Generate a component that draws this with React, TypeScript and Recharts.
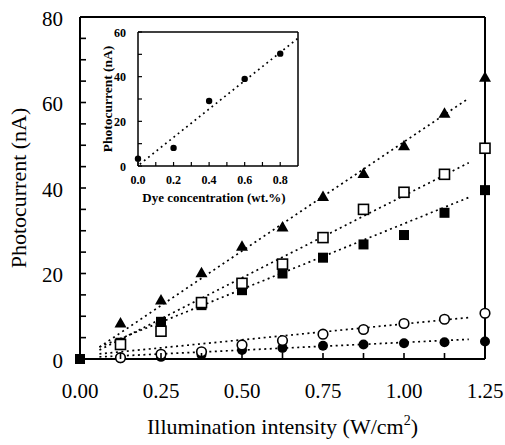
import React from 'react';
import { ComposedChart, Scatter, Line, XAxis, YAxis, ReferenceLine, Label } from 'recharts';

// main plot: photocurrent vs illumination intensity
const intensity = [0.125, 0.25, 0.375, 0.5, 0.625, 0.75, 0.875, 1.0, 1.125, 1.25];
const filledSquareX = [0, ...intensity];

const triangleVals = [8.4, 13.8, 20.2, 26.4, 30.9, 38.0, 43.4, 49.9, 57.5, 65.9];
const openSquareVals = [3.4, 6.5, 13.2, 17.7, 22.2, 28.4, 35.0, 39.0, 43.2, 49.3];
const filledSquareVals = [0, 3.8, 8.7, 12.6, 16.1, 20.0, 23.7, 26.8, 29.0, 34.2, 39.5];
const openCircleVals = [0.3, 1.1, 1.7, 3.3, 4.3, 5.8, 6.9, 8.3, 9.3, 10.7];
const filledCircleVals = [0.2, 0.5, 1.0, 2.1, 2.6, 3.1, 3.4, 3.7, 3.9, 4.1];

// dotted fit lines, end points
const fitX = [0.06, 1.2];
const triangleFit = [2.8, 61.0];
const openSquareFit = [2.1, 45.9];
const filledSquareFit = [2.8, 37.8];
const openCircleFit = [1.2, 9.7];
const filledCircleFit = [0.5, 4.6];

const xTicks = [0, 0.125, 0.25, 0.375, 0.5, 0.625, 0.75, 0.875, 1.0, 1.125, 1.25];
const yTicks = [0, 5, 10, 15, 20, 25, 30, 35, 40, 45, 50, 55, 60, 65, 70, 75, 80];

// inset: photocurrent vs dye concentration
const dyeConc = [0, 0.2, 0.4, 0.6, 0.8];
const dyeCurrent = [3.3, 8.1, 29.1, 39.0, 50.3];
const dyeFitX = [0.01, 0.9];
const dyeFitY = [0.8, 57.2];
const insetXTicks = [0, 0.1, 0.2, 0.3, 0.4, 0.5, 0.6, 0.7, 0.8];
const insetYTicks = [0, 10, 20, 30, 40, 50, 60];

const serif = "'Liberation Serif', 'Times New Roman', serif";

const pts = (xs: number[], ys: number[]) => xs.map((x, i) => ({ x, y: ys[i] }));

const Triangle = (p: any) => (
  <polygon points={`${p.cx},${p.cy - 6} ${p.cx - 6},${p.cy + 4.5} ${p.cx + 6},${p.cy + 4.5}`} fill="#000" />
);
const OpenSquare = (p: any) => (
  <rect x={p.cx - 5} y={p.cy - 5} width={10} height={10} fill="#fff" stroke="#000" strokeWidth={1.6} />
);
const FilledSquare = (p: any) => (
  <rect x={p.cx - 5} y={p.cy - 5} width={10} height={10} fill="#000" />
);
const OpenCircle = (p: any) => (
  <circle cx={p.cx} cy={p.cy} r={4.8} fill="#fff" stroke="#000" strokeWidth={1.6} />
);
const FilledCircle = (p: any) => <circle cx={p.cx} cy={p.cy} r={5} fill="#000" />;
const SmallDot = (p: any) => <circle cx={p.cx} cy={p.cy} r={3.2} fill="#000" />;

// inward tick marks with labels outside (x, y arrive on the axis line since tickSize/tickMargin are 0)
const MainXTick = ({ x, y, payload }: any) => {
  const v = payload.value;
  const show = Math.round(v * 8) % 2 === 0;
  return (
    <g>
      <line x1={x} x2={x} y1={y} y2={y - 6} stroke="#000" strokeWidth={1.6} />
      {show && (
        <text x={x} y={y + 39} textAnchor="middle" fontSize={21} fontFamily={serif} fill="#000">
          {v.toFixed(2)}
        </text>
      )}
    </g>
  );
};

const MainYTick = ({ x, y, payload }: any) => {
  const v = payload.value;
  return (
    <g>
      <line x1={x} x2={x + 6} y1={y} y2={y} stroke="#000" strokeWidth={1.6} />
      {v % 20 === 0 && (
        <text x={x - 17} y={y + 8.5} textAnchor="end" fontSize={21} fontFamily={serif} fill="#000">
          {v}
        </text>
      )}
    </g>
  );
};

const InsetXTick = ({ x, y, payload }: any) => {
  const v = payload.value;
  const show = Math.round(v * 10) % 2 === 0;
  return (
    <g>
      <line x1={x} x2={x} y1={y} y2={y - 4} stroke="#000" strokeWidth={1.2} />
      {show && (
        <text x={x} y={y + 18} textAnchor="middle" fontSize={12} fontWeight="bold" fontFamily={serif} fill="#000">
          {v.toFixed(1)}
        </text>
      )}
    </g>
  );
};

const InsetYTick = ({ x, y, payload }: any) => {
  const v = payload.value;
  return (
    <g>
      <line x1={x} x2={x + 4} y1={y} y2={y} stroke="#000" strokeWidth={1.2} />
      {v % 20 === 0 && (
        <text x={x - 12} y={y + 4.5} textAnchor="end" fontSize={12} fontWeight="bold" fontFamily={serif} fill="#000">
          {v}
        </text>
      )}
    </g>
  );
};

const fitLine = (ys: number[], xs: number[], key: string, dash = '2 3.5') => (
  <Line
    key={key}
    data={pts(xs, ys)}
    dataKey="y"
    stroke="#000"
    strokeWidth={1.7}
    strokeDasharray={dash}
    dot={false}
    activeDot={false}
    isAnimationActive={false}
  />
);

function Inset() {
  return (
    <ComposedChart width={205} height={195} margin={{ top: 12, right: 5, bottom: 0, left: 0 }}>
      <XAxis
        type="number"
        dataKey="x"
        domain={[0, 0.9]}
        ticks={insetXTicks}
        height={49}
        tickSize={0}
        tickMargin={0}
        tickLine={false}
        axisLine={{ stroke: '#000', strokeWidth: 1.5 }}
        tick={InsetXTick}
        interval={0}
      >
        <Label
          content={({ viewBox }: any) => (
            <text
              x={viewBox.x + viewBox.width / 2 - 4}
              y={viewBox.y + 36}
              textAnchor="middle"
              fontSize={13}
              fontWeight="bold"
              fontFamily={serif}
              fill="#000"
            >
              Dye concentration (wt.%)
            </text>
          )}
        />
      </XAxis>
      <YAxis
        type="number"
        dataKey="y"
        domain={[0, 60]}
        ticks={insetYTicks}
        width={40}
        tickSize={0}
        tickMargin={0}
        tickLine={false}
        axisLine={{ stroke: '#000', strokeWidth: 1.5 }}
        tick={InsetYTick}
        interval={0}
      >
        <Label
          content={({ viewBox }: any) => {
            const cx = viewBox.x + 14;
            const cy = viewBox.y + viewBox.height / 2;
            return (
              <text
                x={cx}
                y={cy}
                transform={`rotate(-90, ${cx}, ${cy})`}
                textAnchor="middle"
                fontSize={13.5}
                fontWeight="bold"
                fontFamily={serif}
                fill="#000"
              >
                Photocurrent (nA)
              </text>
            );
          }}
        />
      </YAxis>
      <ReferenceLine x={0.9} stroke="#000" strokeWidth={1.5} />
      <ReferenceLine y={60} stroke="#000" strokeWidth={1.5} />
      {fitLine(dyeFitY, dyeFitX, 'dyefit', '1.8 3.6')}
      <Scatter data={pts(dyeConc, dyeCurrent)} shape={SmallDot} isAnimationActive={false} />
    </ComposedChart>
  );
}

export default function App() {
  return (
    <div style={{ position: 'absolute', left: 0, top: 0, width: 505, height: 445, background: '#fff' }}>
      <ComposedChart width={505} height={445} margin={{ top: 17, right: 20, bottom: 0, left: 0 }}>
        <XAxis
          type="number"
          dataKey="x"
          domain={[0, 1.25]}
          ticks={xTicks}
          height={86}
          tickSize={0}
          tickMargin={0}
          tickLine={false}
          axisLine={{ stroke: '#000', strokeWidth: 2 }}
          tick={MainXTick}
          interval={0}
        >
          <Label
            content={({ viewBox }: any) => (
              <text
                x={viewBox.x + viewBox.width / 2}
                y={viewBox.y + viewBox.height - 11}
                textAnchor="middle"
                fontSize={22}
                fontFamily={serif}
                fill="#000"
              >
                Illumination intensity (W/cm
                <tspan dy={-9} fontSize={14}>2</tspan>
                <tspan dy={9}>)</tspan>
              </text>
            )}
          />
        </XAxis>
        <YAxis
          type="number"
          dataKey="y"
          domain={[0, 80]}
          ticks={yTicks}
          width={80}
          tickSize={0}
          tickMargin={0}
          tickLine={false}
          axisLine={{ stroke: '#000', strokeWidth: 2 }}
          tick={MainYTick}
          interval={0}
        >
          <Label
            content={({ viewBox }: any) => {
              const cx = viewBox.x + 26;
              const cy = viewBox.y + viewBox.height / 2;
              return (
                <text
                  x={cx}
                  y={cy}
                  transform={`rotate(-90, ${cx}, ${cy})`}
                  textAnchor="middle"
                  fontSize={22}
                  fontFamily={serif}
                  fill="#000"
                >
                  Photocurrent (nA)
                </text>
              );
            }}
          />
        </YAxis>
        <ReferenceLine x={1.25} stroke="#000" strokeWidth={2} />
        <ReferenceLine y={80} stroke="#000" strokeWidth={2} />
        {fitLine(filledCircleFit, fitX, 'fc')}
        {fitLine(openCircleFit, fitX, 'oc')}
        {fitLine(filledSquareFit, fitX, 'fs')}
        {fitLine(openSquareFit, fitX, 'os')}
        {fitLine(triangleFit, fitX, 'tr')}
        <Scatter data={pts(intensity, filledCircleVals)} shape={FilledCircle} isAnimationActive={false} />
        <Scatter data={pts(intensity, openCircleVals)} shape={OpenCircle} isAnimationActive={false} />
        <Scatter data={pts(filledSquareX, filledSquareVals)} shape={FilledSquare} isAnimationActive={false} />
        <Scatter data={pts(intensity, openSquareVals)} shape={OpenSquare} isAnimationActive={false} />
        <Scatter data={pts(intensity, triangleVals)} shape={Triangle} isAnimationActive={false} />
      </ComposedChart>
      <div style={{ position: 'absolute', left: 98, top: 20 }}>
        <Inset />
      </div>
    </div>
  );
}
